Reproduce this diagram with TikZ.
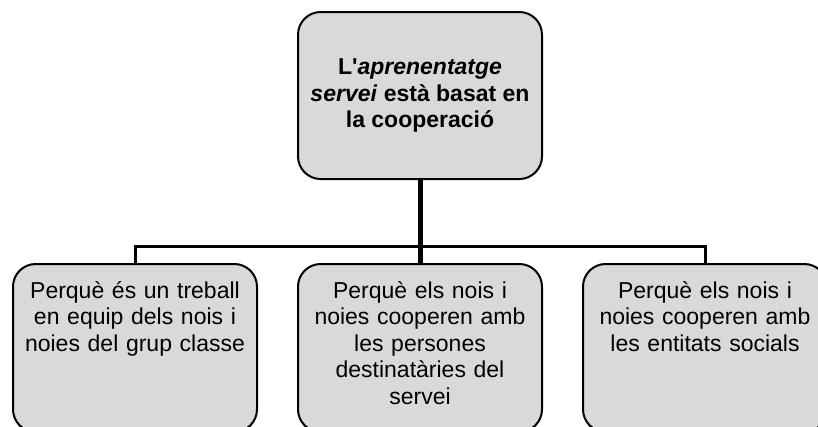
\documentclass[tikz,border=0pt]{standalone}
\usepackage{fontspec}
\setmainfont{Liberation Sans}[Ligatures=TeXOff]
\definecolor{boxgray}{RGB}{217,217,217}
\tikzset{
    box/.style ={
        rectangle,
        rounded corners =17pt,
        minimum width =183pt,
        minimum height =125.25pt,
        inner sep=0pt,
        line width=1.5pt,
        draw=black,
        fill=boxgray,
        align=center
    },
    leaf/.style ={
        box,
        anchor=north,
        text width=183pt,
        text height=25.5pt,
        text depth=100.5pt
    }
}

\begin{document}
\begin{tikzpicture}[x=0.75pt,y=-0.75pt,font=\fontsize{17.25}{19.9}\selectfont]

        \useasboundingbox (0,0) rectangle (818,426);
        \clip (0,0) rectangle (818,426);
        \node[box,font=\bfseries\fontsize{17.25}{19.9}\selectfont] (BASE) at(420,95.5) {L'\textit{aprenentatge}\\\textit{servei} està basat en\\la cooperació};
        \node[leaf] (TEAM) at(135,263) {Perquè és un treball\\en equip dels nois i\\noies del grup classe};
        \node[leaf] (USERS) at(420,263) {Perquè els nois i\\noies cooperen amb\\les persones\\destinatàries del\\servei};
        \node[leaf] (ENTITY) at(705,263) {Perquè els nois i\\noies cooperen amb\\les entitats socials};
        \coordinate (BAR) at(420,246);
        \draw[line width=3.75pt] (BASE)--(USERS);
        \draw[line width=2.25pt] (TEAM.north) |- (BAR) -| (ENTITY.north);
    \end{tikzpicture}
\end{document}
